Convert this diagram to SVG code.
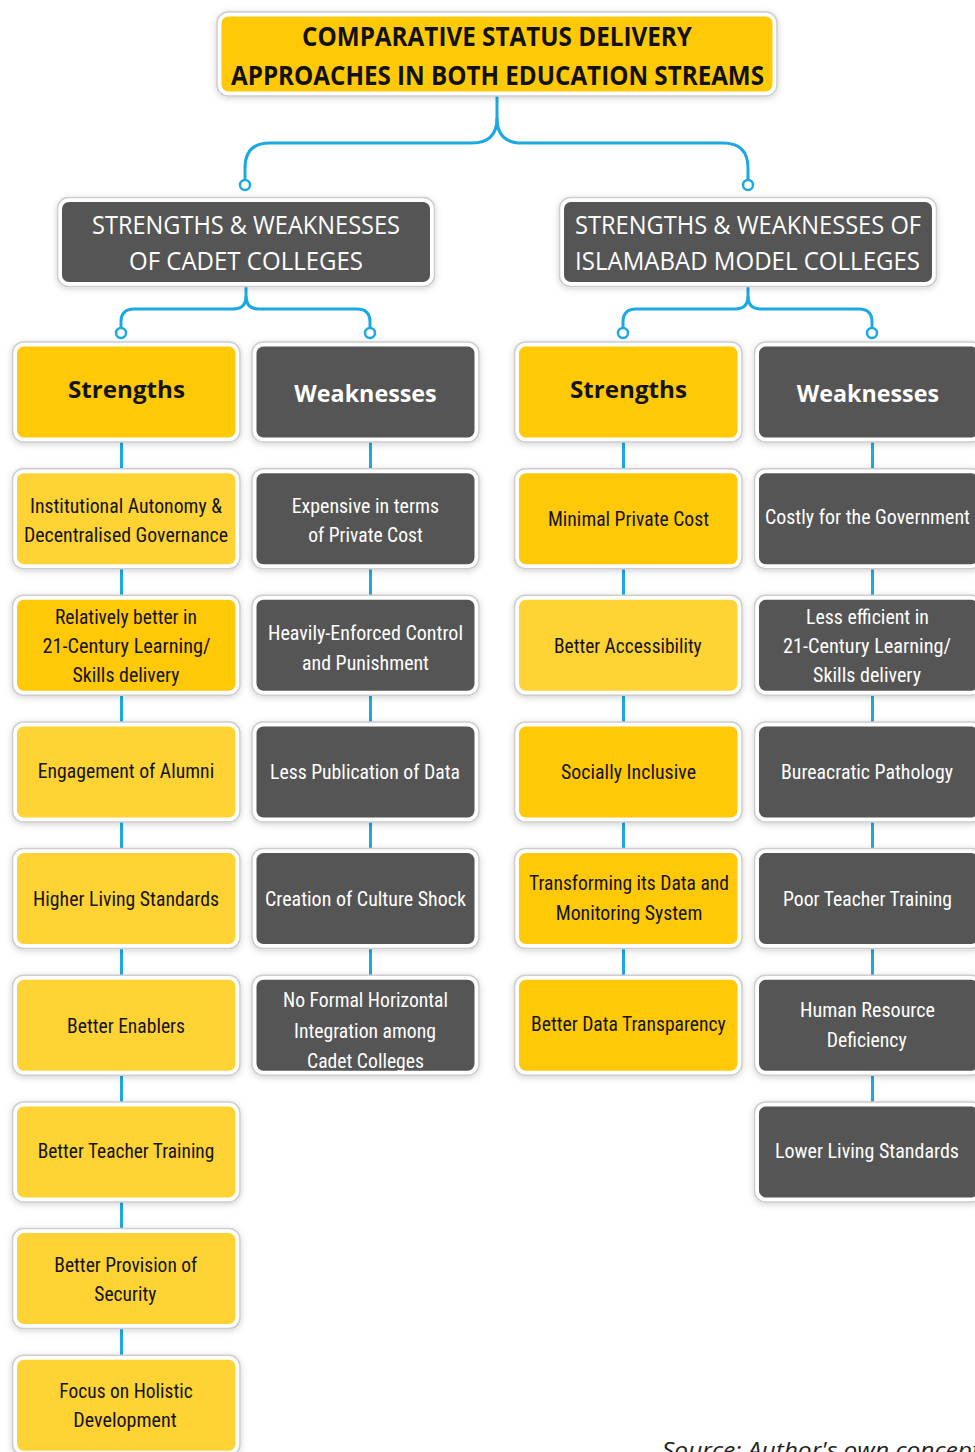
<svg xmlns="http://www.w3.org/2000/svg" width="975" height="1452" viewBox="0 0 975 1452">
<defs>
<filter id="sh" x="-10%" y="-10%" width="120%" height="130%">
<feDropShadow dx="0" dy="1.5" stdDeviation="3" flood-color="#000" flood-opacity="0.18"/>
</filter>
<style>
.o{fill:#fff;stroke:#cdcdcd;stroke-width:1.5;filter:url(#sh)}
.y1{fill:#FFC907}
.y2{fill:#FED333}
.g{fill:#555555}
.t{font-family:"Liberation Sans Narrow","Roboto Condensed","Liberation Sans",Arial,sans-serif;font-size:21px}
.k{fill:#141414}
.w{fill:#ffffff}
.h{font-family:"Open Sans","Noto Sans","Liberation Sans",sans-serif;font-weight:700;font-size:24px}
.l2{font-family:"Open Sans","Noto Sans","Liberation Sans",sans-serif;font-weight:400;font-size:25px;fill:#fff}
.ti{font-family:"Open Sans","Noto Sans","Liberation Sans",sans-serif;font-weight:700;font-size:26px;fill:#111}
.c{fill:none;stroke:#1CA9E1;stroke-width:3}
.d{fill:#fff;stroke:#1CA9E1;stroke-width:2.5}
.src{font-family:"Open Sans","Noto Sans","Liberation Sans",sans-serif;font-style:italic;font-size:22px;fill:#222}
</style>
</defs>
<rect width="975" height="1452" fill="#ffffff"/>

<g id="connectors">
<path class="c" d="M497,95 V118 Q497,143 472,143 H270 Q245,143 245,168 V180"/>
<path class="c" d="M497,118 Q497,143 522,143 H723 Q748,143 748,168 V180"/>
<circle class="d" cx="245" cy="185" r="5"/>
<circle class="d" cx="748" cy="185" r="5"/>
<path class="c" d="M246,286 V296 Q246,309 233,309 H134 Q121,309 121,322 V328"/>
<path class="c" d="M246,296 Q246,309 259,309 H357 Q370,309 370,322 V328"/>
<path class="c" d="M748,286 V296 Q748,309 735,309 H636 Q623,309 623,322 V328"/>
<path class="c" d="M748,296 Q748,309 761,309 H859 Q872,309 872,322 V328"/>
<circle class="d" cx="121" cy="333" r="5"/>
<circle class="d" cx="370" cy="333" r="5"/>
<circle class="d" cx="623" cy="333" r="5"/>
<circle class="d" cx="872" cy="333" r="5"/>
<!-- column 1 verticals -->
<path class="c" d="M121.5,442 V468.7 M121.5,568.7 V595.3 M121.5,695.3 V722 M121.5,822 V848.6 M121.5,948.6 V975.3 M121.5,1075.3 V1101.9 M121.5,1201.9 V1228.6 M121.5,1328.6 V1355.2"/>
<!-- column 2 verticals -->
<path class="c" d="M370.5,442 V468.7 M370.5,568.7 V595.3 M370.5,695.3 V722 M370.5,822 V848.6 M370.5,948.6 V975.3"/>
<!-- column 3 verticals -->
<path class="c" d="M623.5,442 V468.7 M623.5,568.7 V595.3 M623.5,695.3 V722 M623.5,822 V848.6 M623.5,948.6 V975.3"/>
<!-- column 4 verticals -->
<path class="c" d="M872.5,442 V468.7 M872.5,568.7 V595.3 M872.5,695.3 V722 M872.5,822 V848.6 M872.5,948.6 V975.3 M872.5,1075.3 V1101.9"/>
</g>

<g id="title">
<rect class="o" x="217" y="12" width="560" height="84" rx="11"/>
<rect class="y1" x="221.5" y="16.5" width="551" height="75" rx="7"/>
<text class="ti" x="302" y="46" textLength="390" lengthAdjust="spacingAndGlyphs">COMPARATIVE STATUS DELIVERY</text>
<text class="ti" x="231" y="85" textLength="533" lengthAdjust="spacingAndGlyphs">APPROACHES IN BOTH EDUCATION STREAMS</text>
</g>

<g id="cadet">
<rect class="o" x="57.5" y="197.5" width="377" height="89" rx="11"/>
<rect class="g" x="62" y="202" width="368" height="80" rx="7"/>
<text class="l2" x="92" y="234" textLength="308" lengthAdjust="spacingAndGlyphs">STRENGTHS &amp; WEAKNESSES</text>
<text class="l2" x="129" y="270" textLength="234" lengthAdjust="spacingAndGlyphs">OF CADET COLLEGES</text>
</g>

<g id="imc">
<rect class="o" x="559.5" y="197.5" width="377" height="89" rx="11"/>
<rect class="g" x="564" y="202" width="368" height="80" rx="7"/>
<text class="l2" x="575" y="234" textLength="346" lengthAdjust="spacingAndGlyphs">STRENGTHS &amp; WEAKNESSES OF</text>
<text class="l2" x="575" y="270" textLength="345" lengthAdjust="spacingAndGlyphs">ISLAMABAD MODEL COLLEGES</text>
</g>

<!-- Column 1: Cadet strengths -->
<g id="c1r0">
<rect class="o" x="12.5" y="342" width="227.5" height="100" rx="11"/>
<rect class="y1" x="17" y="346.5" width="218.5" height="91" rx="7"/>
<text class="h k" x="68" y="398" textLength="117" lengthAdjust="spacingAndGlyphs">Strengths</text>
</g>
<g id="c1r1">
<rect class="o" x="12.5" y="468.7" width="227.5" height="100" rx="11"/>
<rect class="y2" x="17" y="473.2" width="218.5" height="91" rx="7"/>
<text class="t k" x="30" y="513" textLength="192" lengthAdjust="spacingAndGlyphs">Institutional Autonomy &amp;</text>
<text class="t k" x="24" y="542" textLength="204" lengthAdjust="spacingAndGlyphs">Decentralised Governance</text>
</g>
<g id="c1r2">
<rect class="o" x="12.5" y="595.3" width="227.5" height="100" rx="11"/>
<rect class="y1" x="17" y="599.8" width="218.5" height="91" rx="7"/>
<text class="t k" x="55" y="624" textLength="142" lengthAdjust="spacingAndGlyphs">Relatively better in</text>
<text class="t k" x="42.5" y="653.3" textLength="168" lengthAdjust="spacingAndGlyphs">21-Century Learning/</text>
<text class="t k" x="72.5" y="682.3" textLength="107" lengthAdjust="spacingAndGlyphs">Skills delivery</text>
</g>
<g id="c1r3">
<rect class="o" x="12.5" y="722" width="227.5" height="100" rx="11"/>
<rect class="y2" x="17" y="726.5" width="218.5" height="91" rx="7"/>
<text class="t k" x="37.7" y="778.3" textLength="176.5" lengthAdjust="spacingAndGlyphs">Engagement of Alumni</text>
</g>
<g id="c1r4">
<rect class="o" x="12.5" y="848.6" width="227.5" height="100" rx="11"/>
<rect class="y2" x="17" y="853.1" width="218.5" height="91" rx="7"/>
<text class="t k" x="33" y="905.5" textLength="186" lengthAdjust="spacingAndGlyphs">Higher Living Standards</text>
</g>
<g id="c1r5">
<rect class="o" x="12.5" y="975.3" width="227.5" height="100" rx="11"/>
<rect class="y2" x="17" y="979.8" width="218.5" height="91" rx="7"/>
<text class="t k" x="67" y="1032.5" textLength="118" lengthAdjust="spacingAndGlyphs">Better Enablers</text>
</g>
<g id="c1r6">
<rect class="o" x="12.5" y="1101.9" width="227.5" height="100" rx="11"/>
<rect class="y2" x="17" y="1106.4" width="218.5" height="91" rx="7"/>
<text class="t k" x="37.7" y="1157.7" textLength="176.6" lengthAdjust="spacingAndGlyphs">Better Teacher Training</text>
</g>
<g id="c1r7">
<rect class="o" x="12.5" y="1228.6" width="227.5" height="100" rx="11"/>
<rect class="y2" x="17" y="1233.1" width="218.5" height="91" rx="7"/>
<text class="t k" x="54.3" y="1271.7" textLength="143" lengthAdjust="spacingAndGlyphs">Better Provision of</text>
<text class="t k" x="94.3" y="1300.7" textLength="62" lengthAdjust="spacingAndGlyphs">Security</text>
</g>
<g id="c1r8">
<rect class="o" x="12.5" y="1355.2" width="227.5" height="100" rx="11"/>
<rect class="y2" x="17" y="1359.7" width="218.5" height="91" rx="7"/>
<text class="t k" x="59.3" y="1397.7" textLength="133.4" lengthAdjust="spacingAndGlyphs">Focus on Holistic</text>
<text class="t k" x="73.3" y="1426.7" textLength="103.4" lengthAdjust="spacingAndGlyphs">Development</text>
</g>

<!-- Column 2: Cadet weaknesses -->
<g id="c2r0">
<rect class="o" x="252" y="342" width="227" height="100" rx="11"/>
<rect class="g" x="256.5" y="346.5" width="218" height="91" rx="7"/>
<text class="h w" x="294.3" y="401.7" textLength="142.4" lengthAdjust="spacingAndGlyphs">Weaknesses</text>
</g>
<g id="c2r1">
<rect class="o" x="252" y="468.7" width="227" height="100" rx="11"/>
<rect class="g" x="256.5" y="473.2" width="218" height="91" rx="7"/>
<text class="t w" x="291.7" y="512.7" textLength="147.3" lengthAdjust="spacingAndGlyphs">Expensive in terms</text>
<text class="t w" x="308.3" y="542.3" textLength="114.4" lengthAdjust="spacingAndGlyphs">of Private Cost</text>
</g>
<g id="c2r2">
<rect class="o" x="252" y="595.3" width="227" height="100" rx="11"/>
<rect class="g" x="256.5" y="599.8" width="218" height="91" rx="7"/>
<text class="t w" x="268" y="639.5" textLength="195" lengthAdjust="spacingAndGlyphs">Heavily-Enforced Control</text>
<text class="t w" x="302" y="669.5" textLength="127" lengthAdjust="spacingAndGlyphs">and Punishment</text>
</g>
<g id="c2r3">
<rect class="o" x="252" y="722" width="227" height="100" rx="11"/>
<rect class="g" x="256.5" y="726.5" width="218" height="91" rx="7"/>
<text class="t w" x="270" y="779" textLength="190" lengthAdjust="spacingAndGlyphs">Less Publication of Data</text>
</g>
<g id="c2r4">
<rect class="o" x="252" y="848.6" width="227" height="100" rx="11"/>
<rect class="g" x="256.5" y="853.1" width="218" height="91" rx="7"/>
<text class="t w" x="265" y="906" textLength="201" lengthAdjust="spacingAndGlyphs">Creation of Culture Shock</text>
</g>
<g id="c2r5">
<rect class="o" x="252" y="975.3" width="227" height="100" rx="11"/>
<rect class="g" x="256.5" y="979.8" width="218" height="91" rx="7"/>
<text class="t w" x="283" y="1007" textLength="165" lengthAdjust="spacingAndGlyphs">No Formal Horizontal</text>
<text class="t w" x="294" y="1037.5" textLength="142" lengthAdjust="spacingAndGlyphs">Integration among</text>
<text class="t w" x="307" y="1067.5" textLength="117" lengthAdjust="spacingAndGlyphs">Cadet Colleges</text>
</g>

<!-- Column 3: IMC strengths -->
<g id="c3r0">
<rect class="o" x="514.5" y="342" width="227.5" height="100" rx="11"/>
<rect class="y1" x="519" y="346.5" width="218.5" height="91" rx="7"/>
<text class="h k" x="570" y="398" textLength="117" lengthAdjust="spacingAndGlyphs">Strengths</text>
</g>
<g id="c3r1">
<rect class="o" x="514.5" y="468.7" width="227.5" height="100" rx="11"/>
<rect class="y1" x="519" y="473.2" width="218.5" height="91" rx="7"/>
<text class="t k" x="548" y="526" textLength="161" lengthAdjust="spacingAndGlyphs">Minimal Private Cost</text>
</g>
<g id="c3r2">
<rect class="o" x="514.5" y="595.3" width="227.5" height="100" rx="11"/>
<rect class="y2" x="519" y="599.8" width="218.5" height="91" rx="7"/>
<text class="t k" x="554" y="652.7" textLength="147.7" lengthAdjust="spacingAndGlyphs">Better Accessibility</text>
</g>
<g id="c3r3">
<rect class="o" x="514.5" y="722" width="227.5" height="100" rx="11"/>
<rect class="y1" x="519" y="726.5" width="218.5" height="91" rx="7"/>
<text class="t k" x="561" y="778.5" textLength="135" lengthAdjust="spacingAndGlyphs">Socially Inclusive</text>
</g>
<g id="c3r4">
<rect class="o" x="514.5" y="848.6" width="227.5" height="100" rx="11"/>
<rect class="y1" x="519" y="853.1" width="218.5" height="91" rx="7"/>
<text class="t k" x="529" y="890" textLength="200" lengthAdjust="spacingAndGlyphs">Transforming its Data and</text>
<text class="t k" x="555.7" y="920" textLength="146.6" lengthAdjust="spacingAndGlyphs">Monitoring System</text>
</g>
<g id="c3r5">
<rect class="o" x="514.5" y="975.3" width="227.5" height="100" rx="11"/>
<rect class="y1" x="519" y="979.8" width="218.5" height="91" rx="7"/>
<text class="t k" x="531" y="1030.7" textLength="194.7" lengthAdjust="spacingAndGlyphs">Better Data Transparency</text>
</g>

<!-- Column 4: IMC weaknesses -->
<g id="c4r0">
<rect class="o" x="754.5" y="342" width="228" height="100" rx="11"/>
<rect class="g" x="759" y="346.5" width="219" height="91" rx="7"/>
<text class="h w" x="796.7" y="401.7" textLength="142.3" lengthAdjust="spacingAndGlyphs">Weaknesses</text>
</g>
<g id="c4r1">
<rect class="o" x="754.5" y="468.7" width="228" height="100" rx="11"/>
<rect class="g" x="759" y="473.2" width="219" height="91" rx="7"/>
<text class="t w" x="765" y="524" textLength="205" lengthAdjust="spacingAndGlyphs">Costly for the Government</text>
</g>
<g id="c4r2">
<rect class="o" x="754.5" y="595.3" width="228" height="100" rx="11"/>
<rect class="g" x="759" y="599.8" width="219" height="91" rx="7"/>
<text class="t w" x="806" y="624" textLength="123" lengthAdjust="spacingAndGlyphs">Less efficient in</text>
<text class="t w" x="783" y="653.3" textLength="168" lengthAdjust="spacingAndGlyphs">21-Century Learning/</text>
<text class="t w" x="813" y="682.3" textLength="108" lengthAdjust="spacingAndGlyphs">Skills delivery</text>
</g>
<g id="c4r3">
<rect class="o" x="754.5" y="722" width="228" height="100" rx="11"/>
<rect class="g" x="759" y="726.5" width="219" height="91" rx="7"/>
<text class="t w" x="781" y="778.5" textLength="172" lengthAdjust="spacingAndGlyphs">Bureacratic Pathology</text>
</g>
<g id="c4r4">
<rect class="o" x="754.5" y="848.6" width="228" height="100" rx="11"/>
<rect class="g" x="759" y="853.1" width="219" height="91" rx="7"/>
<text class="t w" x="783" y="905.5" textLength="169" lengthAdjust="spacingAndGlyphs">Poor Teacher Training</text>
</g>
<g id="c4r5">
<rect class="o" x="754.5" y="975.3" width="228" height="100" rx="11"/>
<rect class="g" x="759" y="979.8" width="219" height="91" rx="7"/>
<text class="t w" x="800" y="1017.3" textLength="135" lengthAdjust="spacingAndGlyphs">Human Resource</text>
<text class="t w" x="826.7" y="1046.7" textLength="80" lengthAdjust="spacingAndGlyphs">Deficiency</text>
</g>
<g id="c4r6">
<rect class="o" x="754.5" y="1101.9" width="228" height="100" rx="11"/>
<rect class="g" x="759" y="1106.4" width="219" height="91" rx="7"/>
<text class="t w" x="775" y="1158.3" textLength="184" lengthAdjust="spacingAndGlyphs">Lower Living Standards</text>
</g>

<text class="src" x="662" y="1458" textLength="318" lengthAdjust="spacingAndGlyphs">Source: Author's own concept</text>
</svg>
